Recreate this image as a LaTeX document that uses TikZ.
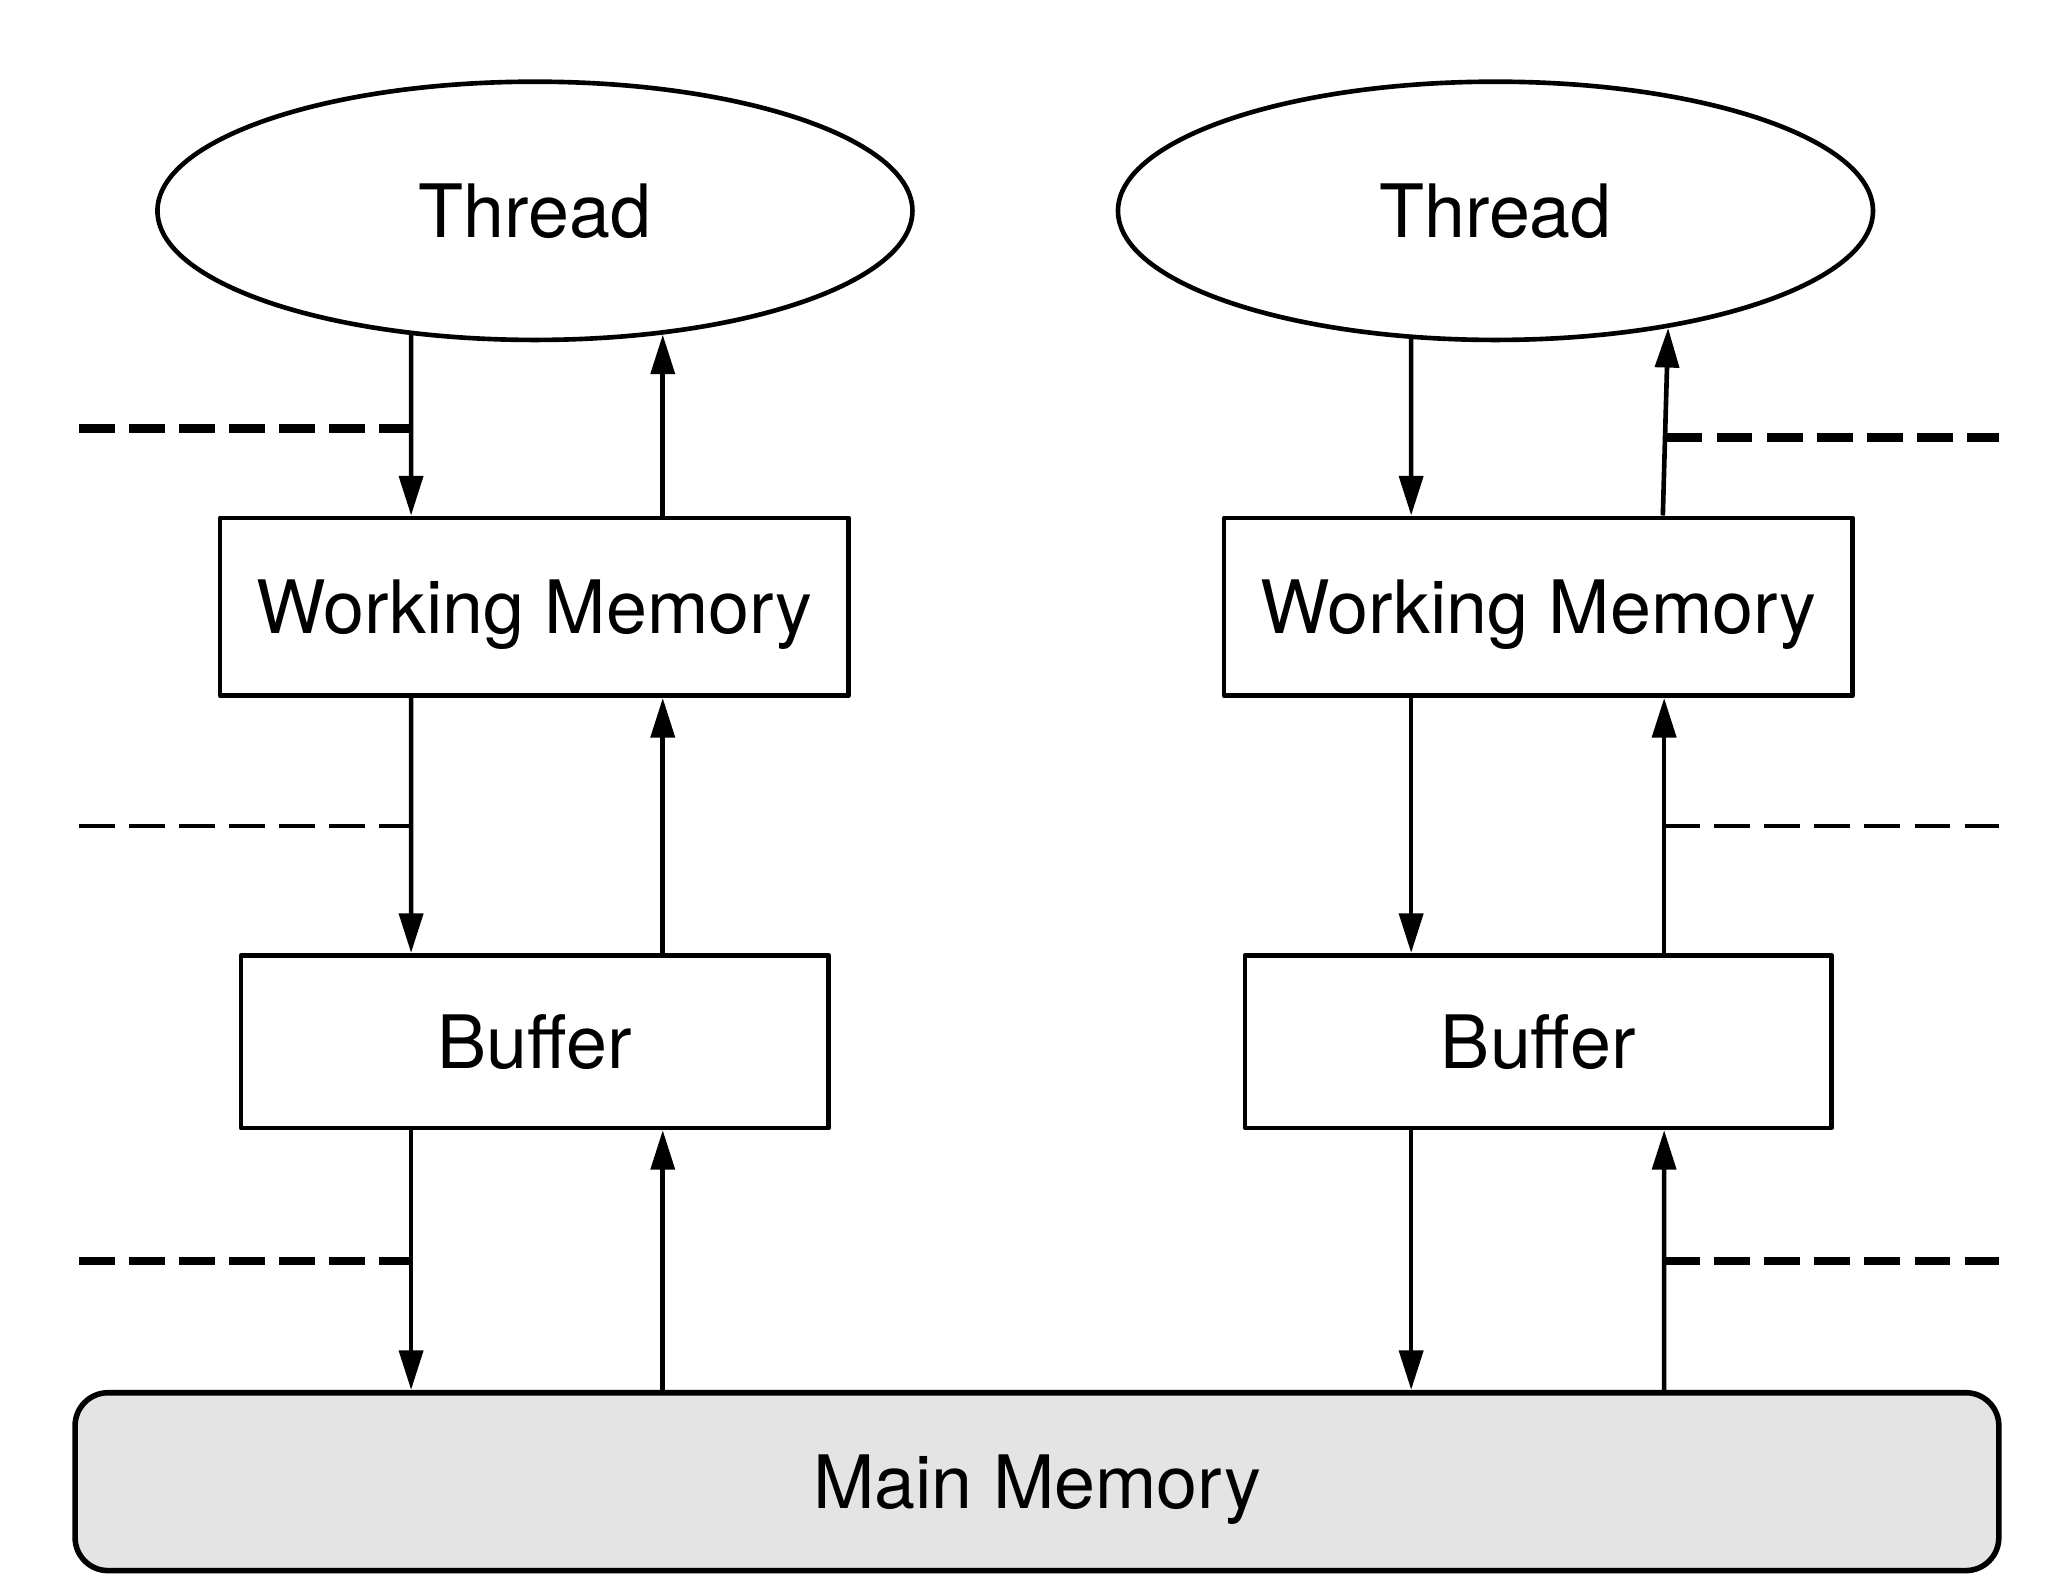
\documentclass[tikz,border=0pt]{standalone}
\usepackage{fontspec}
\setmainfont{TeX Gyre Heros}
\usetikzlibrary{arrows.meta,shapes.geometric}
\begin{document}
\begin{tikzpicture}[>={Triangle[length=3mm,width=1.8mm]}, line join=round,
    thread/.style={draw, line width=1pt, ellipse, inner sep=0pt, minimum width=5.73cm, minimum height=1.96cm, text depth=0pt, font=\fontsize{15.9}{19}\selectfont},
    membox/.style={draw, line width=1pt, inner sep=0pt, text depth=0pt, font=\fontsize{15.9}{19}\selectfont},
    arr/.style={->, line width=1pt},
    septhick/.style={line width=1.9pt, dash pattern=on 0.27cm off 0.11cm},
    septhin/.style={line width=0.9pt, dash pattern=on 0.27cm off 0.11cm}]
    \useasboundingbox (0,0) rectangle (15.68,-12.04);
    \node[thread] (T1) at (4.06,-1.60) {Thread};
    \node[thread] (T2) at (11.35,-1.60) {Thread};
    \node[membox, minimum width=4.77cm, minimum height=1.35cm] (W1) at (4.055,-4.605) {Working Memory};
    \node[membox, minimum width=4.77cm, minimum height=1.35cm] (W2) at (11.675,-4.605) {Working Memory};
    \node[membox, minimum width=4.46cm, minimum height=1.31cm] (B1) at (4.06,-7.905) {Buffer};
    \node[membox, minimum width=4.45cm, minimum height=1.31cm] (B2) at (11.675,-7.905) {Buffer};
    \node[membox, line width=1.2pt, fill={rgb,255:red,227;green,228;blue,227}, rounded corners=0.25cm,
        minimum width=14.60cm, minimum height=1.35cm] (M) at (7.87,-11.245) {Main Memory};
    \draw[arr] ([xshift=-0.94cm,yshift=0.054cm]T1.south) -- ([xshift=-0.935cm]W1.north);
    \draw[arr] ([xshift=0.975cm]W1.north) -- ([xshift=0.97cm,yshift=0.058cm]T1.south);
    \draw[arr] ([xshift=-0.935cm]W1.south) -- ([xshift=-0.94cm]B1.north);
    \draw[arr] ([xshift=0.97cm]B1.north) -- ([xshift=0.975cm]W1.south);
    \draw[arr] ([xshift=-0.94cm]B1.south) -- (M.north -| 3.12,0);
    \draw[arr] (M.north -| 5.03,0) -- ([xshift=0.97cm]B1.south);
    \draw[arr] ([xshift=-0.64cm,yshift=0.025cm]T2.south) -- ([xshift=-0.965cm]W2.north);
    \draw[arr] ([xshift=0.945cm]W2.north) -- ([xshift=1.31cm,yshift=0.108cm]T2.south);
    \draw[arr] ([xshift=-0.965cm]W2.south) -- ([xshift=-0.965cm]B2.north);
    \draw[arr] ([xshift=0.955cm]B2.north) -- ([xshift=0.955cm]W2.south);
    \draw[arr] ([xshift=-0.965cm]B2.south) -- (M.north -| 10.71,0);
    \draw[arr] (M.north -| 12.63,0) -- ([xshift=0.955cm]B2.south);
    \draw[septhick] (0.60,-3.25) -- (3.12,-3.25);
    \draw[septhin] (0.60,-6.27) -- (3.12,-6.27);
    \draw[septhick] (0.60,-9.57) -- (3.12,-9.57);
    \draw[septhick] (12.65,-3.32) -- (15.17,-3.32);
    \draw[septhin] (12.63,-6.27) -- (15.17,-6.27);
    \draw[septhick] (12.63,-9.57) -- (15.17,-9.57);
\end{tikzpicture}
\end{document}
